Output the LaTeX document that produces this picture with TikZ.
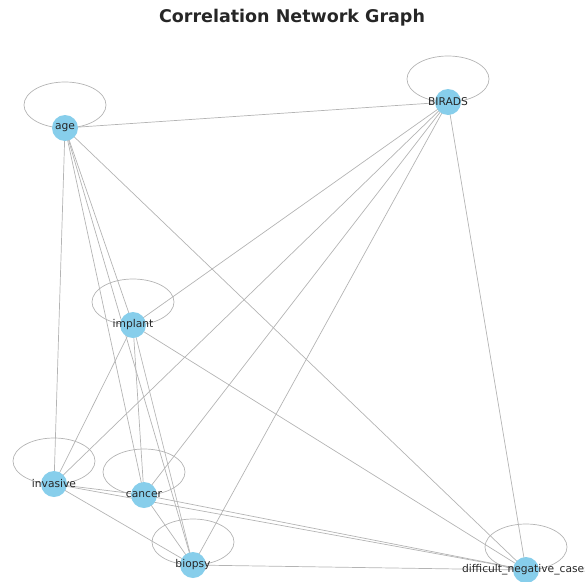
\documentclass[tikz,border=0pt]{standalone}
\usepackage{fontspec}
\setmainfont{DejaVu Sans}
\definecolor{nodeblue}{HTML}{87CEEB}
\definecolor{edgegray}{HTML}{B4B4B4}
\definecolor{labelgray}{HTML}{262626}
\pgfdeclarelayer{background}
\pgfsetlayers{background,main}
\begin{document}
\begin{tikzpicture}[x=1pt,y=-1pt,
  vnode/.style={circle,fill=nodeblue,minimum size=26pt,inner sep=0pt},
  lbl/.style={font=\fontsize{10.7}{12}\selectfont,text=labelgray,inner sep=0pt},
  edgeline/.style={draw=edgegray,line width=0.7pt},
  selfloop/.style={draw=edgegray,line width=0.7pt}]
\useasboundingbox (0,0) rectangle (585,581);
\node[font=\bfseries\fontsize{17.5}{20}\selectfont,text=labelgray] (title) at (292,18) {Correlation Network Graph};
% nodes
\node[vnode] (age) at (65,128) {};
\node[vnode] (birads) at (448,102) {};
\node[vnode] (implant) at (133,325) {};
\node[vnode] (invasive) at (54,484) {};
\node[vnode] (cancer) at (144,495) {};
\node[vnode] (biopsy) at (193,565) {};
\node[vnode] (diff) at (526,570) {};
% labels
\node[lbl] (agel) at (age) {age};
\node[lbl] (biradsl) at (birads) {BIRADS};
\node[lbl] (implantl) at (implant) {implant};
\node[lbl] (invasivel) at (invasive) {invasive};
\node[lbl] (cancerl) at (cancer) {cancer};
\node[lbl] (biopsyl) at (biopsy) {biopsy};
\node[lbl] (diffl) at (diff) {difficult\_negative\_cases};
\begin{pgfonlayer}{background}
% edges (complete graph)
\foreach \a/\b in {age/birads,age/implant,age/invasive,age/cancer,age/biopsy,age/diff,
  birads/implant,birads/invasive,birads/cancer,birads/biopsy,birads/diff,
  implant/invasive,implant/cancer,implant/biopsy,implant/diff,
  invasive/cancer,invasive/biopsy,invasive/diff,
  cancer/biopsy,cancer/diff,
  biopsy/diff}
  \draw[edgeline] (\a.center) -- (\b.center);
% self loops
\foreach \n in {age,birads,implant,invasive,cancer,biopsy,diff}
  \draw[selfloop] (\n.center) ++(0,-23) ellipse [x radius=41,y radius=23];
\end{pgfonlayer}
\end{tikzpicture}
\end{document}
